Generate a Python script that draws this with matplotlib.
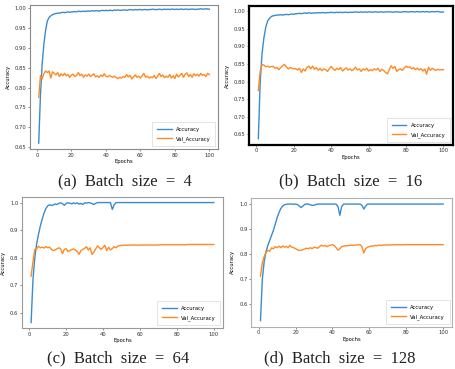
import matplotlib
matplotlib.use("Agg")
import matplotlib.pyplot as plt
import numpy as np

epochs = np.arange(1, 101)

# batch size 4
acc_4 = [0.660, 0.780, 0.860, 0.910, 0.945, 0.968, 0.977, 0.981, 0.984, 0.986,
         0.987, 0.988, 0.988, 0.989, 0.990, 0.989, 0.990, 0.991, 0.990, 0.991,
         0.991, 0.992, 0.991, 0.993, 0.992, 0.992, 0.993, 0.992, 0.993, 0.993,
         0.993, 0.994, 0.993, 0.994, 0.994, 0.993, 0.994, 0.995, 0.994, 0.995,
         0.994, 0.995, 0.995, 0.994, 0.996, 0.995, 0.996, 0.995, 0.995, 0.996,
         0.996, 0.995, 0.996, 0.997, 0.996, 0.996, 0.997, 0.996, 0.997, 0.997,
         0.996, 0.997, 0.997, 0.996, 0.997, 0.997, 0.998, 0.997, 0.997, 0.997,
         0.998, 0.997, 0.997, 0.998, 0.997, 0.998, 0.997, 0.998, 0.998, 0.997,
         0.998, 0.997, 0.998, 0.998, 0.997, 0.998, 0.998, 0.997, 0.998, 0.998,
         0.998, 0.997, 0.998, 0.998, 0.999, 0.998, 0.998, 0.999, 0.998, 0.998]
val_4 = [0.775, 0.830, 0.822, 0.835, 0.842, 0.838, 0.842, 0.824, 0.840, 0.836,
         0.832, 0.838, 0.828, 0.835, 0.830, 0.836, 0.830, 0.833, 0.826, 0.832,
         0.834, 0.828, 0.831, 0.838, 0.830, 0.834, 0.826, 0.832, 0.829, 0.834,
         0.828, 0.831, 0.835, 0.827, 0.830, 0.826, 0.832, 0.828, 0.835, 0.829,
         0.827, 0.831, 0.828, 0.826, 0.829, 0.825, 0.823, 0.826, 0.824, 0.828,
         0.826, 0.833, 0.827, 0.831, 0.822, 0.827, 0.832, 0.826, 0.829, 0.824,
         0.830, 0.836, 0.826, 0.829, 0.824, 0.827, 0.825, 0.831, 0.823, 0.829,
         0.836, 0.828, 0.832, 0.825, 0.829, 0.826, 0.833, 0.824, 0.830, 0.823,
         0.834, 0.827, 0.831, 0.836, 0.826, 0.834, 0.837, 0.828, 0.833, 0.826,
         0.835, 0.830, 0.834, 0.829, 0.836, 0.831, 0.833, 0.828, 0.836, 0.833]

# batch size 16
acc_16 = [0.638, 0.800, 0.880, 0.925, 0.955, 0.972, 0.980, 0.985, 0.987, 0.988,
          0.989, 0.989, 0.990, 0.989, 0.990, 0.991, 0.990, 0.991, 0.992, 0.991,
          0.993, 0.993, 0.994, 0.993, 0.994, 0.995, 0.994, 0.996, 0.994, 0.995,
          0.995, 0.995, 0.996, 0.995, 0.996, 0.996, 0.995, 0.996, 0.996, 0.997,
          0.996, 0.996, 0.997, 0.996, 0.997, 0.996, 0.997, 0.997, 0.996, 0.997,
          0.997, 0.997, 0.998, 0.997, 0.997, 0.998, 0.997, 0.998, 0.997, 0.998,
          0.998, 0.997, 0.998, 0.998, 0.997, 0.998, 0.998, 0.997, 0.998, 0.998,
          0.998, 0.998, 0.997, 0.998, 0.998, 0.998, 0.997, 0.998, 0.999, 0.998,
          0.998, 0.998, 0.999, 0.998, 0.998, 0.999, 0.998, 0.998, 0.999, 0.998,
          0.999, 0.998, 0.998, 0.999, 0.998, 0.999, 0.999, 0.998, 0.997, 0.998]
val_16 = [0.775, 0.830, 0.848, 0.847, 0.842, 0.844, 0.841, 0.843, 0.843, 0.838,
          0.840, 0.834, 0.840, 0.845, 0.849, 0.842, 0.836, 0.840, 0.838, 0.836,
          0.837, 0.833, 0.838, 0.826, 0.836, 0.830, 0.840, 0.844, 0.836, 0.844,
          0.835, 0.840, 0.832, 0.838, 0.831, 0.836, 0.834, 0.829, 0.837, 0.843,
          0.836, 0.832, 0.838, 0.834, 0.840, 0.830, 0.835, 0.839, 0.833, 0.836,
          0.831, 0.835, 0.841, 0.833, 0.836, 0.829, 0.836, 0.833, 0.838, 0.830,
          0.834, 0.831, 0.836, 0.833, 0.838, 0.829, 0.835, 0.832, 0.826, 0.822,
          0.834, 0.845, 0.838, 0.843, 0.829, 0.834, 0.836, 0.832, 0.838, 0.844,
          0.840, 0.842, 0.836, 0.840, 0.834, 0.838, 0.833, 0.837, 0.830, 0.836,
          0.821, 0.841, 0.832, 0.838, 0.834, 0.832, 0.835, 0.833, 0.834, 0.834]

# batch size 64
acc_64 = [0.565, 0.720, 0.800, 0.850, 0.885, 0.915, 0.940, 0.962, 0.978, 0.988,
          0.992, 0.990, 0.991, 0.995, 0.993, 0.997, 0.999, 0.996, 0.990, 0.997,
          0.999, 0.998, 0.995, 0.999, 0.996, 0.999, 0.994, 0.997, 0.993, 0.999,
          0.998, 1.000, 0.999, 0.996, 0.993, 0.997, 1.000, 1.000, 1.000, 1.000,
          1.000, 1.000, 1.000, 1.000, 0.975, 0.992, 1.000, 1.000, 1.000, 1.000,
          1.000, 1.000, 1.000, 1.000, 1.000, 1.000, 1.000, 1.000, 1.000, 1.000,
          1.000, 1.000, 1.000, 1.000, 1.000, 1.000, 1.000, 1.000, 1.000, 1.000,
          1.000, 1.000, 1.000, 1.000, 1.000, 1.000, 1.000, 1.000, 1.000, 1.000,
          1.000, 1.000, 1.000, 1.000, 1.000, 1.000, 1.000, 1.000, 1.000, 1.000,
          1.000, 1.000, 1.000, 1.000, 1.000, 1.000, 1.000, 1.000, 1.000, 1.000]
val_64 = [0.733, 0.785, 0.830, 0.832, 0.842, 0.836, 0.838, 0.835, 0.840, 0.836,
          0.838, 0.830, 0.826, 0.828, 0.832, 0.836, 0.832, 0.815, 0.830, 0.833,
          0.822, 0.826, 0.829, 0.832, 0.828, 0.822, 0.812, 0.826, 0.830, 0.834,
          0.840, 0.828, 0.836, 0.812, 0.820, 0.832, 0.843, 0.836, 0.830, 0.838,
          0.845, 0.826, 0.838, 0.828, 0.833, 0.840, 0.836, 0.842, 0.844, 0.845,
          0.845, 0.846, 0.845, 0.846, 0.845, 0.846, 0.846, 0.846, 0.845, 0.846,
          0.846, 0.846, 0.846, 0.846, 0.846, 0.846, 0.846, 0.846, 0.846, 0.846,
          0.847, 0.847, 0.847, 0.847, 0.847, 0.847, 0.847, 0.847, 0.847, 0.847,
          0.847, 0.847, 0.847, 0.847, 0.847, 0.848, 0.848, 0.848, 0.848, 0.848,
          0.848, 0.848, 0.848, 0.848, 0.848, 0.848, 0.848, 0.848, 0.848, 0.848]

# batch size 128
acc_128 = [0.535, 0.700, 0.770, 0.810, 0.835, 0.855, 0.875, 0.895, 0.920, 0.945,
           0.965, 0.982, 0.992, 0.997, 0.999, 1.000, 1.000, 1.000, 0.999, 1.000,
           0.998, 0.993, 0.986, 0.992, 0.999, 1.000, 1.000, 0.997, 0.995, 0.995,
           0.998, 1.000, 1.000, 1.000, 1.000, 1.000, 1.000, 1.000, 1.000, 1.000,
           1.000, 1.000, 0.990, 0.955, 0.990, 1.000, 1.000, 1.000, 1.000, 1.000,
           1.000, 1.000, 1.000, 1.000, 1.000, 0.995, 0.980, 0.992, 1.000, 1.000,
           1.000, 1.000, 1.000, 1.000, 1.000, 1.000, 1.000, 1.000, 1.000, 1.000,
           1.000, 1.000, 1.000, 1.000, 1.000, 1.000, 1.000, 1.000, 1.000, 1.000,
           1.000, 1.000, 1.000, 1.000, 1.000, 1.000, 1.000, 1.000, 1.000, 1.000,
           1.000, 1.000, 1.000, 1.000, 1.000, 1.000, 1.000, 1.000, 1.000, 1.000]
val_128 = [0.712, 0.765, 0.790, 0.808, 0.815, 0.812, 0.825, 0.822, 0.830, 0.826,
           0.832, 0.826, 0.833, 0.828, 0.831, 0.826, 0.835, 0.828, 0.826, 0.822,
           0.818, 0.815, 0.816, 0.818, 0.821, 0.824, 0.822, 0.826, 0.822, 0.828,
           0.826, 0.824, 0.830, 0.836, 0.832, 0.835, 0.830, 0.834, 0.836, 0.838,
           0.834, 0.826, 0.816, 0.822, 0.830, 0.832, 0.834, 0.833, 0.835, 0.836,
           0.835, 0.836, 0.837, 0.837, 0.838, 0.830, 0.805, 0.822, 0.828, 0.830,
           0.833, 0.832, 0.835, 0.834, 0.836, 0.835, 0.836, 0.837, 0.836, 0.837,
           0.837, 0.837, 0.838, 0.837, 0.838, 0.838, 0.837, 0.838, 0.838, 0.838,
           0.838, 0.838, 0.838, 0.838, 0.838, 0.838, 0.838, 0.838, 0.838, 0.838,
           0.838, 0.838, 0.838, 0.838, 0.838, 0.838, 0.838, 0.838, 0.838, 0.838]

captions = ["(a)  Batch  size  =  4", "(b)  Batch  size  =  16",
            "(c)  Batch  size  =  64", "(d)  Batch  size  =  128"]

blue = "#3a8ccc"
orange = "#ff8a24"

fig = plt.figure(figsize=(4.56, 3.69), dpi=100)

# (series, axes rect, y limits, y ticks, spine colour, spine width)
panels = [
    (acc_4, val_4, [0.066, 0.596, 0.412, 0.390], (0.645, 1.008),
     np.arange(0.65, 1.001, 0.05), "#8a8a8a", 0.8),
    (acc_16, val_16, [0.546, 0.607, 0.447, 0.377], (0.62, 1.015),
     np.arange(0.65, 1.001, 0.05), "black", 1.6),
    (acc_64, val_64, [0.048, 0.111, 0.441, 0.355], (0.545, 1.02),
     np.arange(0.6, 1.001, 0.1), "#9a9a9a", 0.8),
    (acc_128, val_128, [0.551, 0.114, 0.441, 0.350], (0.51, 1.025),
     np.arange(0.6, 1.001, 0.1), "#b0b0b0", 0.8),
]

for acc, val, rect, ylim, yticks, sc, sw in panels:
    ax = fig.add_axes(rect)
    ax.plot(epochs, acc, color=blue, lw=1.0, label="Accuracy")
    ax.plot(epochs, val, color=orange, lw=1.0, label="Val_Accuracy")
    ax.set_xlim(-4, 105)
    ax.set_ylim(*ylim)
    ax.set_yticks(yticks)
    if len(yticks) > 5:
        ax.set_yticklabels([f"{t:.2f}" for t in yticks])
    else:
        ax.set_yticklabels([f"{t:.1f}" for t in yticks])
    ax.set_xticks([0, 20, 40, 60, 80, 100])
    ax.tick_params(labelsize=3.8, length=1.5, width=0.4, pad=1, colors="#333333")
    ax.set_xlabel("Epochs", fontsize=3.8, labelpad=1)
    ax.set_ylabel("Accuracy", fontsize=3.8, labelpad=3)
    for s in ax.spines.values():
        s.set_color(sc)
        s.set_linewidth(sw)
    leg = ax.legend(loc="lower right", fontsize=3.8, handlelength=2.8,
                    borderpad=0.9, labelspacing=0.8, fancybox=False,
                    framealpha=1, edgecolor="#d0d0d0")
    leg.get_frame().set_linewidth(0.4)

cap_pos = [(0.275, 0.509), (0.768, 0.509), (0.259, 0.030), (0.746, 0.030)]
for (x, y), txt in zip(cap_pos, captions):
    fig.text(x, y, txt, ha="center", va="center", fontsize=12,
             family="Liberation Serif", color="#222222")

fig.savefig("out.png", dpi=100)
